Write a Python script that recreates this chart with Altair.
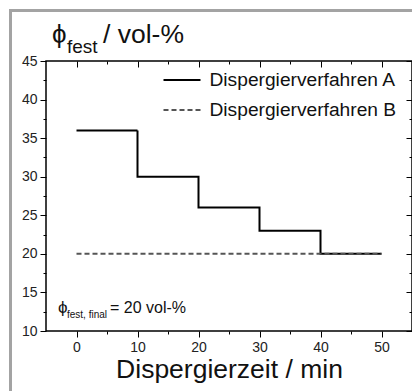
import altair as alt
import pandas as pd

# Data
time = [0, 10, 20, 30, 40, 50]
phi_A = [36, 30, 26, 23, 20, 20]
phi_B = [20, 20, 20, 20, 20, 20]
series_names = ["Dispergierverfahren A", "Dispergierverfahren B"]
x_ticks = [0, 5, 10, 15, 20, 25, 30, 35, 40, 45, 50]
y_ticks = [10, 12.5, 15, 17.5, 20, 22.5, 25, 27.5, 30, 32.5, 35, 37.5, 40, 42.5, 45]

rows = []
for t, a in zip(time, phi_A):
    rows.append({"t": t, "phi": a, "Verfahren": series_names[0]})
for t, b in zip(time, phi_B):
    rows.append({"t": t, "phi": b, "Verfahren": series_names[1]})
df = pd.DataFrame(rows)

W, H = 366, 270
PL, PT = 38, 53
FONT = "Liberation Sans"

xscale = alt.Scale(domain=[-5, 55], nice=False, zero=False)
yscale = alt.Scale(domain=[10, 45], nice=False, zero=False)

x_tick_size = {"condition": {"test": "datum.value % 10 === 0", "value": 6}, "value": 3}
y_tick_size = {"condition": {"test": "datum.value % 5 === 0", "value": 6}, "value": 3}

legend_kw = dict(title=None, orient="none", legendX=116.5, legendY=-0.5,
                 labelFontSize=19.2, labelFont=FONT, labelColor="#111", labelLimit=400,
                 symbolType="stroke", symbolSize=1369, symbolStrokeWidth=2,
                 labelOffset=8, rowPadding=-13, padding=0)

lines = alt.Chart(df).mark_line(interpolate="step-after", strokeWidth=2).encode(
    x=alt.X("t:Q", scale=xscale, axis=alt.Axis(
        values=x_ticks, labelExpr="datum.value % 10 === 0 ? datum.label : ''",
        tickSize=x_tick_size, tickColor="black", grid=False, domain=False,
        labelFontSize=14, labelColor="#222", labelFont=FONT, labelPadding=3,
        title="Dispergierzeit / min", titleFontSize=26.5, titleFontWeight="normal",
        titleFont=FONT, titleColor="#111", titlePadding=2)),
    y=alt.Y("phi:Q", scale=yscale, axis=alt.Axis(
        values=y_ticks, labelExpr="datum.value % 5 === 0 ? datum.label : ''",
        tickSize=y_tick_size, tickColor="black", grid=False, domain=False,
        labelFontSize=14, labelColor="#222", labelFont=FONT, labelPadding=3,
        title=None)),
    color=alt.Color("Verfahren:N", scale=alt.Scale(domain=series_names, range=["#000000", "#555555"]),
                    legend=alt.Legend(**legend_kw)),
    strokeDash=alt.StrokeDash("Verfahren:N", scale=alt.Scale(domain=series_names, range=[[1, 0], [5, 3]]),
                              legend=alt.Legend(**legend_kw)),
)

top_axis = alt.Chart(df).mark_line(opacity=0).encode(
    x=alt.X("t:Q", scale=xscale, axis=alt.Axis(
        orient="bottom", offset=-H, values=x_ticks, labels=False, domain=False, grid=False,
        tickSize=x_tick_size, tickColor="black", title=None)),
    y=alt.Y("phi:Q", scale=yscale, axis=None),
)

right_axis = alt.Chart(df).mark_line(opacity=0).encode(
    x=alt.X("t:Q", scale=xscale, axis=None),
    y=alt.Y("phi:Q", scale=yscale, axis=alt.Axis(
        orient="left", offset=-W, values=y_ticks, labels=False, domain=False, grid=False,
        tickSize=y_tick_size, tickColor="black", title=None)),
)

def txt(s, x, y, size):
    return alt.Chart(pd.DataFrame({"s": [s]})).mark_text(
        align="left", baseline="alphabetic", fontSize=size, font=FONT, color="#111"
    ).encode(text="s:N", x=alt.value(x), y=alt.value(y))

title_phi = txt("ϕ", 6, -18, 26)
title_sub = txt("fest", 21, -8, 19)
title_rest = txt("/ vol-%", 57, -18, 26.5)
ann_phi = txt("ϕ", 12, 252, 17)
ann_sub = txt("fest, final", 21, 257, 10)
ann_rest = txt("= 20 vol-%", 64, 252, 16)

frame_left = alt.Chart(pd.DataFrame({"a": [0]})).mark_rule(color="#a3a3a3", strokeWidth=3).encode(
    x=alt.value(-35.5), y=alt.value(-52), y2=alt.value(335))
frame_top = alt.Chart(pd.DataFrame({"a": [0]})).mark_rule(color="#a3a3a3", strokeWidth=3).encode(
    x=alt.value(-37), x2=alt.value(W + 5), y=alt.value(-50.5))

chart = alt.layer(
    frame_left, frame_top, lines, top_axis, right_axis,
    title_phi, title_sub, title_rest, ann_phi, ann_sub, ann_rest
).resolve_axis(x="independent", y="independent").properties(
    width=W, height=H,
    autosize=alt.AutoSizeParams(type="none"),
    padding={"left": PL, "top": PT, "right": 0, "bottom": 60},
    background="white",
).configure_view(stroke="black", strokeWidth=1.5)

chart.save("out.html", embed_options={"renderer": "svg", "actions": False})
